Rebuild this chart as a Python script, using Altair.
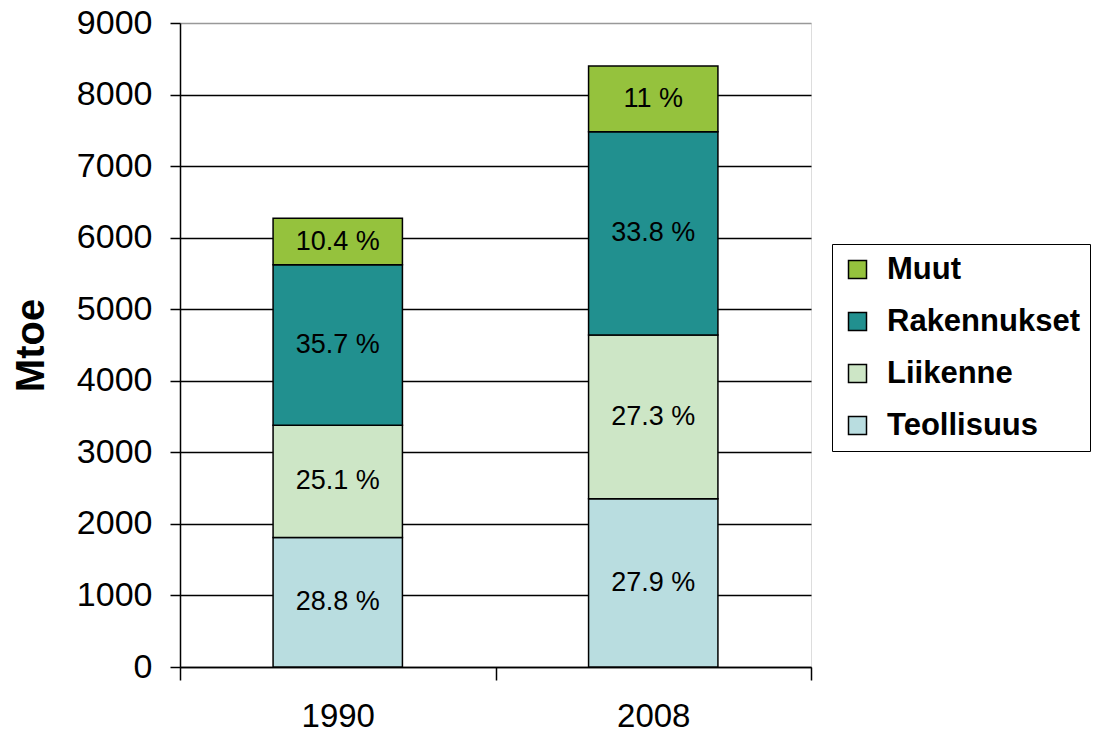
import altair as alt
import pandas as pd

years = ["1990", "2008"]
sectors = ["Teollisuus", "Liikenne", "Rakennukset", "Muut"]
values_1990 = [1810, 1570, 2240, 650]
values_2008 = [2350, 2290, 2840, 920]
labels_1990 = ["28.8 %", "25.1 %", "35.7 %", "10.4 %"]
labels_2008 = ["27.9 %", "27.3 %", "33.8 %", "11 %"]
legend_order = ["Muut", "Rakennukset", "Liikenne", "Teollisuus"]
legend_colors = ["#95C23D", "#21908F", "#CDE6C6", "#B9DDE0"]
y_ticks = [0, 1000, 2000, 3000, 4000, 5000, 6000, 7000, 8000, 9000]

rows = []
for year, vals, labs in [("1990", values_1990, labels_1990), ("2008", values_2008, labels_2008)]:
    for i, (s, v, l) in enumerate(zip(sectors, vals, labs)):
        rows.append({"year": year, "sector": s, "value": v, "label": l, "idx": i})
df = pd.DataFrame(rows)

FONT = "Liberation Sans"

x_enc = alt.X(
    "year:N",
    sort=years,
    scale=alt.Scale(paddingInner=0, paddingOuter=0),
    axis=alt.Axis(
        title=None, labelAngle=0, labelFont=FONT, labelFontSize=33, labelColor="black",
        labelPadding=20, tickSize=13, tickColor="black", tickWidth=1.5,
        domainColor="black", domainWidth=1.5, tickBand="extent", grid=False,
    ),
)

base = alt.Chart(df).transform_stack(
    stack="value", groupby=["year"], sort=[alt.SortField("idx", order="ascending")],
    as_=["y0", "y1"],
).transform_calculate(mid="(datum.y0 + datum.y1) / 2")

bars = base.mark_bar(
    stroke="black", strokeWidth=1.5, opacity=1, width=alt.RelativeBandSize(0.41)
).encode(
    x=x_enc,
    y=alt.Y(
        "y1:Q",
        scale=alt.Scale(domain=[0, 9000], nice=False),
        axis=alt.Axis(
            values=y_ticks, format="d", title="Mtoe", titleFont=FONT, titleFontSize=40,
            titleFontWeight="bold", titleColor="black", titleAngle=270,
            titleX=-137, titleY=322, titleAlign="center", titleBaseline="alphabetic",
            labelFont=FONT, labelFontSize=34, labelColor="black", labelPadding=18,
            tickSize=10, tickColor="black", tickWidth=1.5,
            domainColor="black", domainWidth=1.5,
            grid=True, gridWidth=1.5,
            gridColor={"condition": {"test": "datum.value === 9000", "value": "#999999"}, "value": "black"},
        ),
    ),
    y2="y0:Q",
    color=alt.Color(
        "sector:N",
        scale=alt.Scale(domain=legend_order, range=legend_colors),
        legend=alt.Legend(
            title=None, orient="none", legendX=652, legendY=221,
            symbolType="square", symbolSize=324, symbolStrokeColor="black",
            symbolStrokeWidth=1.5, symbolOpacity=1,
            labelFont=FONT, labelFontSize=31, labelFontWeight="bold", labelColor="black",
            labelOffset=14, labelLimit=400, rowPadding=20, padding=10,
            strokeColor="black", fillColor="white",
        ),
    ),
)

texts = base.mark_text(font=FONT, fontSize=27, color="black").encode(
    x=alt.X("year:N", sort=years),
    y=alt.Y("mid:Q"),
    text="label:N",
)

chart = alt.layer(bars, texts).properties(
    width=631, height=644,
    autosize=alt.AutoSizeParams(type="none"),
    padding={"left": 172, "top": 15, "right": 280, "bottom": 61},
).configure_view(stroke="#999999", strokeWidth=1.5).configure(background="white")

chart.save("out.html", embed_options={"renderer": "svg", "actions": False})
